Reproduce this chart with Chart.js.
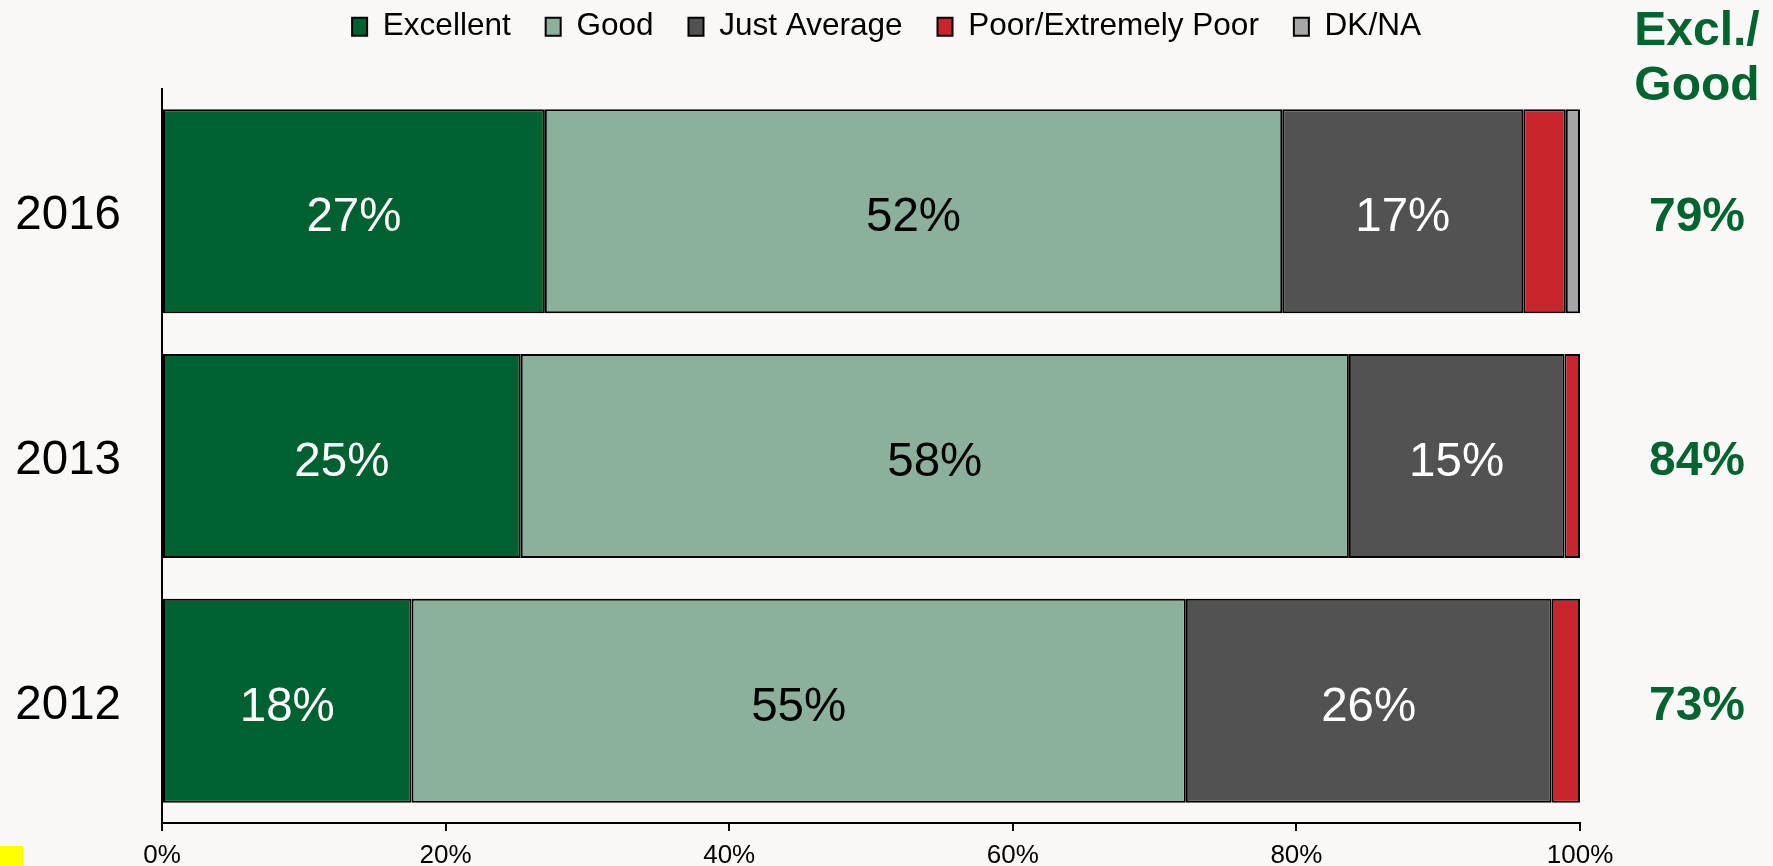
<!DOCTYPE html>
<html><head><meta charset="utf-8">
<script src="https://cdn.jsdelivr.net/npm/chart.js@4.4.1/dist/chart.umd.min.js"></script>
<style>
html,body{margin:0;padding:0;background:#F9F8F6;}
#wrap{position:relative;width:1773px;height:866px;background:#F9F8F6;}
#marker{position:absolute;left:0;top:846px;width:23px;height:20px;background:#FFFF00;}
</style></head><body>
<div id="wrap"><canvas id="c" width="1773" height="866"></canvas><div id="marker"></div></div>
<script>
// ---- data ----
const categories = ['2016', '2013', '2012'];
const seriesNames = ['Excellent', 'Good', 'Just Average', 'Poor/Extremely Poor', 'DK/NA'];
const excellent = [27, 25.3, 17.6];
const good = [52, 58.4, 54.6];
const justAverage = [17, 15.2, 25.8];
const poorExtremelyPoor = [3, 1.1, 2.0];
const dkna = [1, 0, 0];
const exclGood = [79, 84, 73];
const exclGoodHeader = ['Excl./', 'Good'];
const xTickValues = [0, 20, 40, 60, 80, 100];

// ---- styles ----
const FONT = "'Liberation Sans', Arial, sans-serif";
const seriesColors = ['#006130', '#8BB09C', '#525252', '#C9252C', '#A6A6A6'];
const labelColors = ['#FFFFFF', '#000000', '#FFFFFF'];
const GREEN_TEXT = '#00642F';
Chart.defaults.font.family = FONT;

const seriesData = [excellent, good, justAverage, poorExtremelyPoor, dkna];

const legendFitPlugin = {
  id: 'legendFit',
  beforeLayout(chart) {
    const lg = chart.legend;
    if (lg && !lg._patched) {
      const orig = lg.fit;
      lg.fit = function () {
        orig.call(this);
        this.height = 89 - chart.options.layout.padding.top;
      };
      lg._patched = true;
    }
  },
  afterLayout(chart) {
    const lg = chart.legend;
    if (lg) {
      lg.left = 0;
      lg.right = chart.width;
      lg.width = chart.width;
    }
  }
};

const labelPlugin = {
  id: 'valueLabels',
  afterDatasetsDraw(chart) {
    const ctx = chart.ctx;
    ctx.save();
    ctx.textAlign = 'center';
    ctx.textBaseline = 'alphabetic';
    const size = 47.5;
    ctx.font = `${size}px ${FONT}`;
    for (let i = 0; i < 3; i++) {
      const meta = chart.getDatasetMeta(i);
      meta.data.forEach((bar, j) => {
        const v = chart.data.datasets[i].data[j];
        const p = bar.getCenterPoint();
        ctx.fillStyle = labelColors[i];
        ctx.fillText(Math.round(v) + '%', p.x, p.y + size * 0.358 + 3);
      });
    }
    // right column: Excl./Good
    const xr = chart.chartArea.right + 117;
    const bsize = 48;
    ctx.font = `bold ${bsize}px ${FONT}`;
    ctx.fillStyle = GREEN_TEXT;
    const ys = chart.scales.y;
    exclGood.forEach((v, j) => {
      const y = ys.getPixelForValue(j);
      ctx.fillText(v + '%', xr, y + bsize * 0.358 + 2);
    });
    ctx.fillText(exclGoodHeader[0], xr, 45);
    ctx.fillText(exclGoodHeader[1], xr, 100);
    ctx.restore();
  }
};

new Chart(document.getElementById('c'), {
  type: 'bar',
  data: {
    labels: categories,
    datasets: seriesNames.map((name, i) => ({
      label: name,
      data: seriesData[i],
      backgroundColor: seriesColors[i],
      borderColor: '#000000',
      borderWidth: 2,
      borderSkipped: false
    }))
  },
  options: {
    indexAxis: 'y',
    responsive: false,
    animation: false,
    devicePixelRatio: 1,
    layout: { padding: { top: -24, left: 0, right: 193, bottom: 0 } },
    datasets: { bar: { barPercentage: 0.834, categoryPercentage: 1 } },
    scales: {
      x: {
        stacked: true, min: 0, max: 100,
        afterBuildTicks: (s) => { s.ticks = xTickValues.map(v => ({ value: v })); },
        ticks: {
          callback: (v) => v + '%',
          font: { size: 26, lineHeight: 1 },
          color: '#000', padding: 12, maxRotation: 0, autoSkip: false
        },
        grid: { drawOnChartArea: false, drawTicks: true, tickLength: 8, color: '#000', lineWidth: 2 },
        border: { display: true, color: '#000', width: 2 },
        afterFit: (s) => { s.height = 43; }
      },
      y: {
        stacked: true,
        ticks: { font: { size: 47.5 }, color: '#000', padding: 41, labelOffset: 5 },
        grid: { drawOnChartArea: false, drawTicks: false },
        border: { display: true, color: '#000', width: 2 },
        afterFit: (s) => { s.width = 162; s.paddingTop = 0; s.paddingBottom = 0; }
      }
    },
    plugins: {
      legend: {
        position: 'top',
        labels: { boxWidth: 15, boxHeight: 18, padding: 35, font: { size: 31.5 }, color: '#000' }
      },
      tooltip: { enabled: false }
    }
  },
  plugins: [legendFitPlugin, labelPlugin]
});
</script>
</body></html>
